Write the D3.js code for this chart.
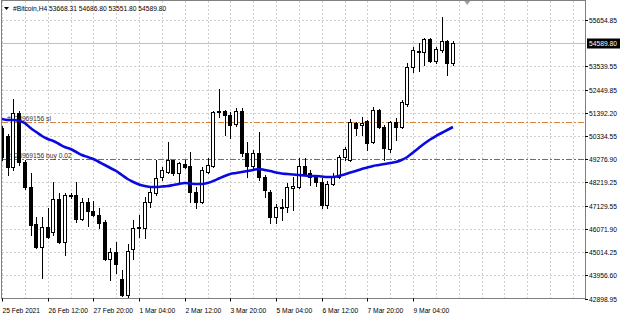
<!DOCTYPE html>
<html>
<head>
<meta charset="utf-8">
<script src="https://cdn.jsdelivr.net/npm/d3@7"></script>
<style>
body { margin: 0; background: #fff; }
text { font-family: "Liberation Sans", Arial, sans-serif; font-size: 6.7px; fill: #000; }
</style>
</head>
<body>
<div id="chart"></div>
<script>
// H4 bars, oldest first
const opens = [
  50694, 50328, 48911, 51380, 49139, 47996, 46305, 45253, 46168, 45939,
  47448, 45482, 47585, 47631, 46533, 47311, 46899, 46716, 46396, 44705,
  45025, 43790, 43059, 45162, 46122, 46122, 47311, 47722, 48454, 48682,
  49231, 48636, 49048, 48956, 47768, 47311, 48682, 48956, 51425, 51471,
  51288, 50877, 51471, 49551, 48956, 49551, 48454, 47768, 46625, 47036,
  47082, 47951, 47996, 48956, 48636, 48499, 48225, 47173, 48134, 48454,
  49368, 49231, 50922, 50831, 51014, 50054, 51517, 50740, 49734, 50968,
  50740, 51791, 53483, 54169, 54169, 54763, 53757, 54260, 54671, 53668.31
];
const highs = [
  50785, 50420, 52020, 51471, 49231, 48636, 46625, 46625, 47036, 48225,
  47722, 47722, 47722, 48225, 47493, 47493, 47356, 47036, 46488, 45207,
  45482, 44202, 45390, 46488, 46716, 47539, 47996, 49231, 48911, 50054,
  49231, 49139, 49231, 49597, 47996, 48911, 49322, 51471, 52477, 51517,
  51425, 51608, 51608, 50054, 49688, 50511, 48545, 47859, 47219, 47448,
  48179, 48454, 49322, 49322, 48774, 48545, 48408, 48271, 48636, 49459,
  49825, 51105, 50968, 51197, 51060, 51654, 51563, 50831, 51014, 51151,
  51974, 53666, 54397, 54580, 54809, 54809, 54397, 55769, 54717, 54686.80
];
const lows = [
  49231, 48545, 48774, 49002, 47905, 45802, 45207, 43836, 45665, 45802,
  45436, 44887, 47493, 46396, 46488, 46213, 46670, 46122, 44659, 43744,
  44064, 43013, 42967, 44705, 45710, 45665, 47082, 47631, 48316, 48636,
  48545, 48225, 48865, 47311, 47036, 47265, 48636, 48911, 51197, 50374,
  50237, 50785, 49414, 48454, 48865, 48316, 47539, 46350, 46350, 46488,
  46853, 46945, 47951, 48545, 48088, 48042, 47036, 47036, 48088, 48408,
  49231, 49185, 50374, 50374, 49688, 50008, 50694, 49231, 49597, 50145,
  50694, 51700, 53254, 53300, 53574, 53711, 53666, 54169, 53117, 53551.80
];
const closes = [
  49368, 48911, 51380, 49139, 47996, 46259, 45253, 46168, 45710, 47448,
  45482, 47631, 47631, 46533, 47311, 46899, 46716, 46350, 44705, 45025,
  44476, 43059, 45070, 46122, 46168, 47311, 47768, 48408, 48774, 49231,
  48636, 49094, 48911, 47768, 47311, 48774, 49002, 51425, 51471, 51288,
  50831, 51471, 49551, 48956, 49551, 48454, 47859, 46625, 47082, 47082,
  47996, 48042, 48956, 48591, 48454, 48225, 47173, 48134, 48454, 49368,
  49734, 50968, 50694, 50922, 50008, 51517, 50740, 49779, 50968, 50740,
  51883, 53483, 54260, 54214, 54763, 53757, 54306, 54671, 53666, 54589.80
];
// moving average, one value per bar
const maValues = [
  51105, 51060, 51060, 51014, 50922, 50694, 50511, 50328, 50191, 50100,
  49962, 49825, 49734, 49597, 49459, 49368, 49277, 49139, 49002, 48865,
  48728, 48545, 48362, 48225, 48111, 48042, 47996, 47996, 48019, 48042,
  48088, 48134, 48179, 48157, 48134, 48134, 48179, 48271, 48385, 48499,
  48591, 48636, 48682, 48728, 48774, 48819, 48774, 48728, 48659, 48614,
  48591, 48568, 48545, 48522, 48499, 48499, 48476, 48454, 48454, 48499,
  48568, 48659, 48728, 48819, 48888, 48956, 49002, 49048, 49094, 49139,
  49231, 49368, 49574, 49780, 49985, 50168, 50328, 50465, 50603, 50740
];

const priceTicks = [55654.85, 53539.55, 52449.85, 51392.20, 50334.55, 49276.90,
  48219.25, 47129.55, 46071.90, 45014.25, 43956.60, 42898.95];
const timeLabels = ["25 Feb 2021", "26 Feb 12:00", "27 Feb 20:00", "1 Mar 04:00", "2 Mar 12:00",
  "3 Mar 20:00", "5 Mar 04:00", "6 Mar 12:00", "7 Mar 20:00", "9 Mar 04:00"];
const timeLabelBars = [0, 8, 16, 24, 32, 40, 48, 56, 64, 72];

const symbolTitle = "#Bitcoin,H4";
const bidPrice = 54589.80;
const slPrice = 50980;
const buyPrice = 49260;
const slLabel = "#128969156 sl";
const buyLabel = "#128969156 buy 0.02";

const W = 620, H = 318;
const pLeft = 2, pRight = 585, pTop = 1, pBottom = 298.5;

const svg = d3.select("#chart").append("svg")
    .attr("width", W)
    .attr("height", H);

const x = d3.scaleLinear().domain([0, 72]).range([2, 413]);
const y = d3.scaleLinear().domain([42898.95, 55654.85]).range([298.5, 19.5]);

svg.append("defs").append("clipPath").attr("id", "clip")
    .append("rect").attr("x", pLeft).attr("y", pTop).attr("width", pRight - pLeft).attr("height", pBottom - pTop);
const plot = svg.append("g");

// grid
const grid = plot.append("g").attr("clip-path", "url(#clip)");
for (let b = 0; x(b) < pRight; b += 4) {
    const gx = Math.round(x(b)) + 0.5;
    grid.append("line")
        .attr("x1", gx).attr("x2", gx)
        .attr("y1", pTop).attr("y2", pBottom)
        .attr("stroke", "#d0d0d0")
        .attr("stroke-dasharray", "2,2");
}
const gridPrices = priceTicks.concat([(priceTicks[0] + priceTicks[1]) / 2]);
gridPrices.forEach(p => {
    const gy = Math.round(y(p)) + 0.5;
    grid.append("line")
        .attr("x1", pLeft).attr("x2", pRight)
        .attr("y1", gy).attr("y2", gy)
        .attr("stroke", "#d0d0d0")
        .attr("stroke-dasharray", "2,2");
});

// order levels
const levels = plot.append("g").attr("clip-path", "url(#clip)");
[[slPrice, "#d8843c", slLabel], [buyPrice, "#2f9a2f", buyLabel]].forEach(([p, c, t]) => {
    const ly = Math.round(y(p)) + 0.5;
    levels.append("line")
        .attr("x1", pLeft).attr("x2", pRight)
        .attr("y1", ly).attr("y2", ly)
        .attr("stroke", "#fff");
    levels.append("line")
        .attr("x1", pLeft).attr("x2", pRight)
        .attr("y1", ly).attr("y2", ly)
        .attr("stroke", c)
        .attr("stroke-dasharray", "6,2,2,2");
    levels.append("text")
        .attr("x", 7).attr("y", ly - 2)
        .style("fill", "#333")
        .text(t);
});

// bid line
const by = Math.round(y(bidPrice)) + 0.5;
plot.append("line")
    .attr("x1", pLeft).attr("x2", pRight)
    .attr("y1", by).attr("y2", by)
    .attr("stroke", "#c0c0c0");

// candles
const candles = plot.append("g").attr("clip-path", "url(#clip)");
opens.forEach((o, i) => {
    const c = closes[i];
    const cx = Math.round(x(i));
    const bull = c >= o;
    candles.append("line")
        .attr("x1", cx + 0.5).attr("x2", cx + 0.5)
        .attr("y1", Math.round(y(highs[i]))).attr("y2", Math.round(y(lows[i])) + 1)
        .attr("stroke", "#000");
    const y0 = Math.round(y(Math.max(o, c)));
    const y1 = Math.round(y(Math.min(o, c)));
    candles.append("rect")
        .attr("x", cx - 1.5).attr("y", y0 + 0.5)
        .attr("width", 3).attr("height", Math.max(y1 - y0, 1))
        .attr("fill", bull ? "#fff" : "#000")
        .attr("stroke", "#000");
});

// moving average
const maLine = d3.line().x((d, i) => x(i)).y(d => y(d)).curve(d3.curveMonotoneX);
plot.append("path")
    .datum(maValues)
    .attr("clip-path", "url(#clip)")
    .attr("d", maLine)
    .attr("fill", "none")
    .attr("stroke", "#0a0ae0")
    .attr("stroke-width", 2.6)
    .attr("stroke-linejoin", "round");

// frame
svg.append("rect")
    .attr("x", pLeft - 0.5).attr("y", pTop - 0.5)
    .attr("width", pRight - pLeft + 1).attr("height", pBottom - pTop + 0.5)
    .attr("fill", "none")
    .attr("stroke", "#808080");

// chart shift marker
const sx = x(81.5);
svg.append("path")
    .attr("d", `M${sx - 3},1 L${sx + 3},1 L${sx},5 Z`)
    .attr("fill", "#a0a0a0");

// price axis
const yAxis = svg.append("g");
priceTicks.forEach(p => {
    const ty = Math.round(y(p)) + 0.5;
    yAxis.append("line")
        .attr("x1", pRight).attr("x2", pRight + 3)
        .attr("y1", ty).attr("y2", ty)
        .attr("stroke", "#000");
    yAxis.append("text")
        .attr("x", pRight + 4).attr("y", ty)
        .attr("dy", "0.35em")
        .text(p.toFixed(2));
});
yAxis.append("rect")
    .attr("x", pRight + 2).attr("y", by - 5)
    .attr("width", 33).attr("height", 10)
    .attr("fill", "#000");
yAxis.append("text")
    .attr("x", pRight + 4).attr("y", by)
    .attr("dy", "0.35em")
    .style("fill", "#fff")
    .text(bidPrice.toFixed(2));

// time axis
const xAxis = svg.append("g");
timeLabels.forEach((t, i) => {
    const tx = Math.round(x(timeLabelBars[i])) + 0.5;
    xAxis.append("line")
        .attr("x1", tx).attr("x2", tx)
        .attr("y1", pBottom).attr("y2", pBottom + 3)
        .attr("stroke", "#000");
    xAxis.append("text")
        .attr("x", tx).attr("y", 313)
        .text(t);
});

// header
svg.append("path").attr("d", "M4,7 L9,7 L6.5,10 Z").attr("fill", "#000");
svg.append("text")
    .attr("x", 13).attr("y", 11)
    .text(symbolTitle + "  " + [opens[79], highs[79], lows[79], closes[79]].map(v => v.toFixed(2)).join(" "));
</script>
</body>
</html>
